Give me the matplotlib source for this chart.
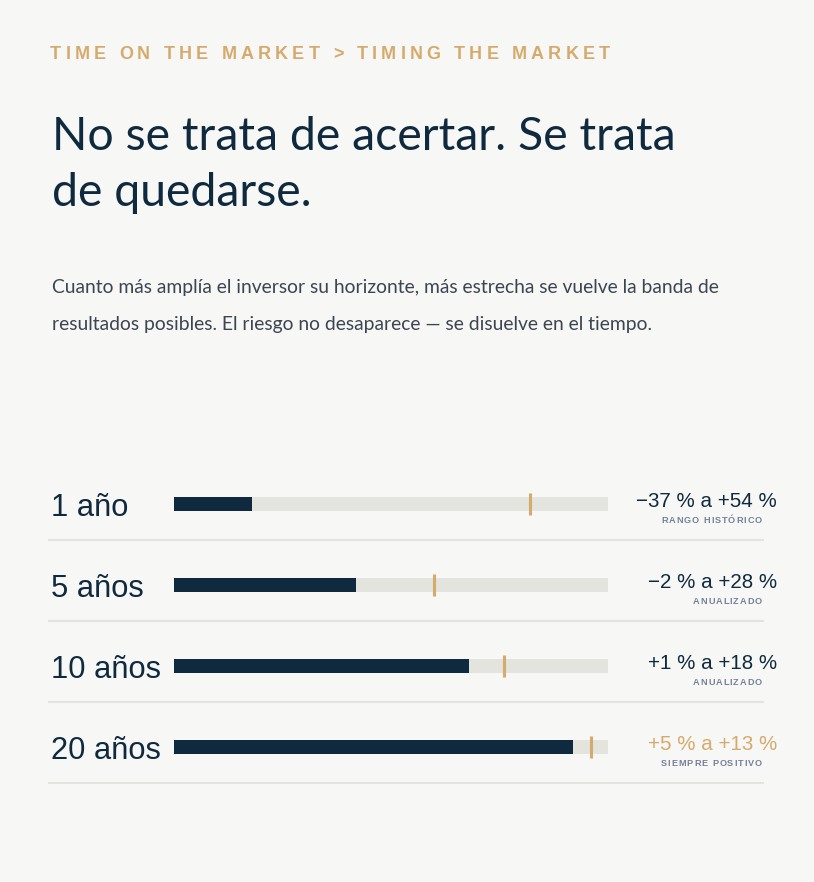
import matplotlib
matplotlib.use("Agg")
import matplotlib.pyplot as plt
from matplotlib import font_manager

# ---------------- data ----------------
horizons = ["1 año", "5 años", "10 años", "20 años"]
fill_pct = [18, 42, 68, 92]
marker_pct = [82, 60, 76, 96]
range_labels = ["−37 % a +54 %", "−2 % a +28 %", "+1 % a +18 %", "+5 % a +13 %"]
notes = ["RANGO HISTÓRICO", "ANUALIZADO", "ANUALIZADO", "SIEMPRE POSITIVO"]
highlight = [False, False, False, True]

kicker = "TIME ON THE MARKET > TIMING THE MARKET"
title_lines = ["No se trata de acertar. Se trata", "de quedarse."]
sub_lines = ["Cuanto más amplía el inversor su horizonte, más estrecha se vuelve la banda de",
             "resultados posibles. El riesgo no desaparece — se disuelve en el tiempo."]

# ---------------- styles ----------------
BG = "#f7f7f5"
NAVY = "#0f2a3f"
TRACK = "#e4e4de"
GOLD = "#d6aa6c"
SUBGRAY = "#3d4552"
NOTEGRAY = "#76809a"

names = {f.name for f in font_manager.fontManager.ttflist}
ARIAL = "Liberation Sans"
TITLE_FONT = "Lato" if "Lato" in names else "DejaVu Sans"
SUB_FONT = "Liberation Sans Narrow" if "Liberation Sans Narrow" in names else TITLE_FONT

W, H = 814, 882
fig = plt.figure(figsize=(W / 100, H / 100), dpi=100, facecolor=BG)
ax = fig.add_axes([0, 0, 1, 1])
ax.set_xlim(0, W)
ax.set_ylim(H, 0)
ax.axis("off")
ax.set_facecolor(BG)
renderer = fig.canvas.get_renderer()


def text_width(s, **kw):
    t = ax.text(0, 0, s + "|", **kw)
    w1 = t.get_window_extent(renderer).width
    t.remove()
    t = ax.text(0, 0, "|", **kw)
    w2 = t.get_window_extent(renderer).width
    t.remove()
    return w1 - w2


def fit_size(s, target, **kw):
    w = text_width(s, fontsize=10, **kw)
    return 10 * target / w


def spaced_text(x, y, s, spacing, ha="left", **kw):
    offs = [text_width(s[:i], **kw) + i * spacing for i in range(len(s))]
    total = text_width(s, **kw) + (len(s) - 1) * spacing
    x0 = x - total if ha == "right" else x
    for ch, o in zip(s, offs):
        if ch != " ":
            ax.text(x0 + o, y, ch, ha="left", va="baseline", **kw)


# kicker
kk = dict(fontsize=13, fontweight="bold", family=ARIAL, color=GOLD)
nat = text_width(kicker, **kk)
sp = (560 - nat) / (len(kicker) - 1)
spaced_text(50, 59, kicker, sp, **kk)

# title
tsize = fit_size(title_lines[0], 624, family=TITLE_FONT)
ax.text(52, 150, title_lines[0], family=TITLE_FONT, fontsize=tsize, color=NAVY, va="baseline")
ax.text(52, 206, title_lines[1], family=TITLE_FONT, fontsize=tsize, color=NAVY, va="baseline")

# subtitle
ssize = fit_size(sub_lines[0], 670, family=SUB_FONT)
ax.text(52, 293, sub_lines[0], family=SUB_FONT, fontsize=ssize, color=SUBGRAY, va="baseline")
ax.text(52, 330, sub_lines[1], family=SUB_FONT, fontsize=ssize, color=SUBGRAY, va="baseline")

# ---------------- bar rows ----------------
row0, step = 504, 81
bx = fig.add_axes([174 / W, (H - (row0 + step * 3.5)) / H, 434 / W, (step * 4) / H])
bx.set_xlim(0, 100)
bx.set_ylim(3.5, -0.5)
bx.axis("off")
ypos = list(range(len(horizons)))
bh = 14 / step
bx.barh(ypos, [100] * len(ypos), height=bh, color=TRACK, linewidth=0)
bx.barh(ypos, fill_pct, height=bh, color=NAVY, linewidth=0)
bx.vlines(marker_pct, [y - 11 / step for y in ypos], [y + 11 / step for y in ypos],
          color=GOLD, linewidth=2.2)

# note spacing fit
nk = dict(fontsize=6.6, family=ARIAL, color=NOTEGRAY, fontweight="bold")
nsp = (101 - text_width(notes[0], **nk)) / (len(notes[0]) - 1)

for i, (lab, rl, nt, hl) in enumerate(zip(horizons, range_labels, notes, highlight)):
    yc = row0 + step * i
    ax.text(51, yc + 12, lab, family=ARIAL, fontsize=22.2, color=NAVY, va="baseline")
    ax.text(777, yc + 3, rl, family=ARIAL, fontsize=14.8, color=GOLD if hl else NAVY,
            ha="right", va="baseline")
    spaced_text(762, yc + 19, nt, nsp, ha="right", **nk)
    ax.plot([48, 764], [yc + 36, yc + 36], color=TRACK, linewidth=1.5, solid_capstyle="butt")

fig.savefig("out.png", dpi=100, facecolor=BG)
